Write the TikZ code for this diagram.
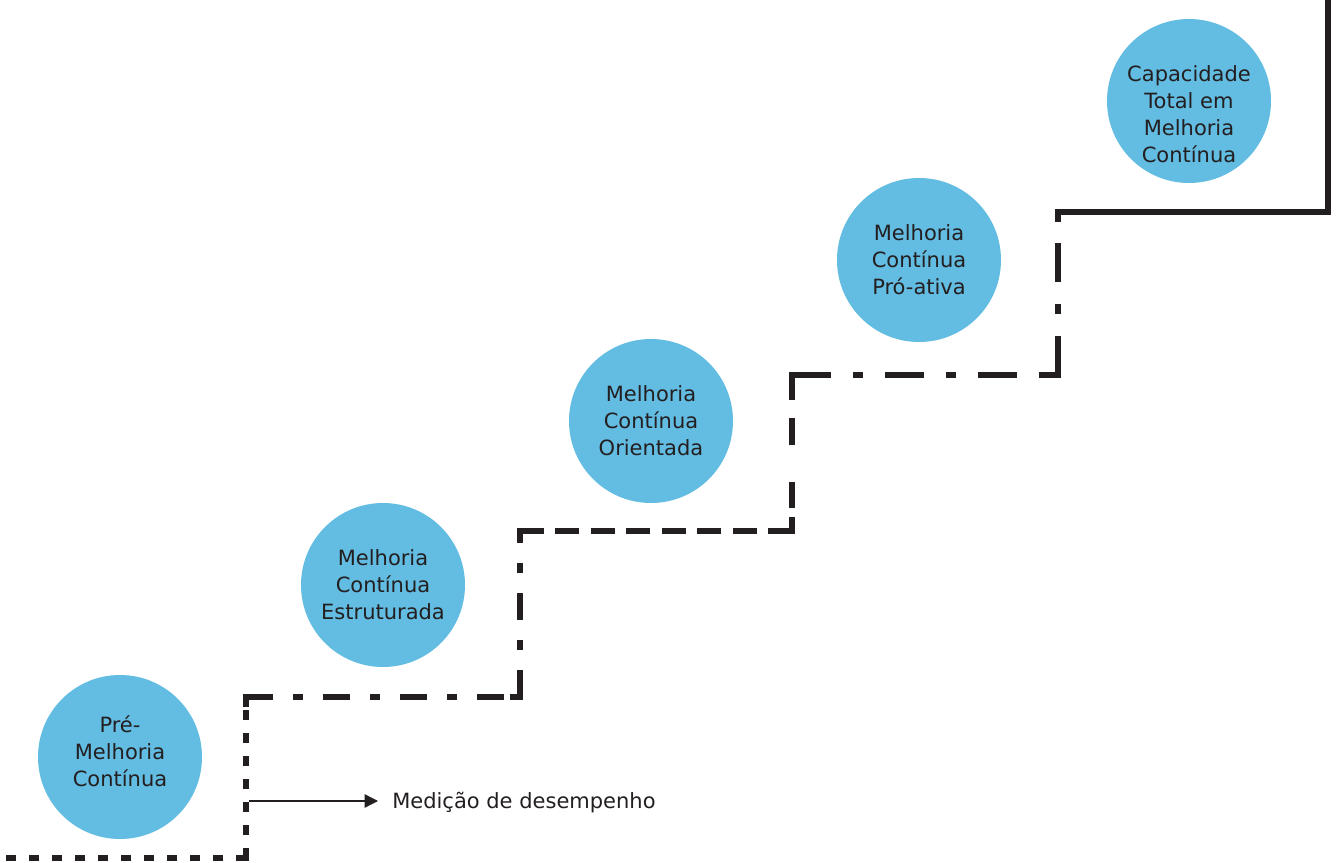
\documentclass[tikz,border=0pt]{standalone}
\usepackage{fontspec}
\setmainfont{DejaVu Sans}
\usetikzlibrary{arrows.meta}

\definecolor{stepblue}{HTML}{63BCE1}
\definecolor{stepink}{HTML}{231F20}

\tikzset{
	stagetext/.style={align=center, text=stepink, font=\fontsize{15.75}{20.25}\selectfont},
	stage/.style={stagetext, circle, fill=stepblue, minimum size=123pt, inner sep=0pt},
	stair/.style={line width=4pt, color=stepink},
	stairdots/.style={stair, dash pattern=on 7.5pt off 9.75pt},
	stairdashdot/.style={stair, dash pattern=on 20.25pt off 15pt on 7.5pt off 15pt},
	stairdash/.style={stair, dash pattern=on 18pt off 8.6pt},
	stairlong/.style={stair, dash pattern=on 29.25pt off 16.5pt on 7.5pt off 16.5pt},
}

\begin{document}
\begin{tikzpicture}[x=0.75pt, y=-0.75pt]
	%%%%% START %%%%%
	\useasboundingbox (0, 0) rectangle (1336, 863);

	% stages
	\node[stage, label={[stagetext, yshift=4pt]center:{Pré-\\Melhoria\\Contínua}}] (pre) at (120, 757) {};
	\node[stage] (estruturada) at (383, 585) {Melhoria\\Contínua\\Estruturada};
	\node[stage] (orientada) at (651, 421) {Melhoria\\Contínua\\Orientada};
	\node[stage] (proativa) at (919, 260) {Melhoria\\Contínua\\Pró-ativa};
	\node[stage, label={[stagetext, yshift=-10pt]center:{Capacidade\\Total em\\Melhoria\\Contínua}}] (total) at (1189, 101) {};

	% stairs
	\draw[stairdots] (246, 858) -- (0, 858);
	\draw[stairdots] (246, 858) -- (246, 697);
	\draw[stairdashdot] (246, 697) -- (520, 697);
	\draw[stairdashdot] (520, 697) -- (520, 531);
	\draw[stairdash] (792, 531) -- (520, 531);
	\draw[stair, dash pattern=on 10.5pt off 6.75pt on 19.5pt off 27.75pt on 20.25pt off 13.5pt on 22pt off 10pt] (792, 531) -- (792, 375);
	\draw[stairlong] (792, 375) -- (1058, 375);
	\draw[stairlong] (1058, 375) -- (1058, 212);
	\draw[stair] (1058, 212) -- (1328, 212) -- (1328, 0);

	% corners
	\foreach \x/\y in {246/697, 520/531, 792/375, 1058/212}
		\draw[stair] (\x, \y+10) -- (\x, \y) -- (\x+10, \y);
	\foreach \x/\y in {246/858, 520/697, 792/531, 1058/375}
		\draw[stair] (\x-10, \y) -- (\x, \y) -- (\x, \y-10);

	% measurement
	\coordinate (gauge) at (249, 801);
	\node[stagetext, anchor=west, inner sep=0pt] (medicao) at (392, 803) {Medição de desempenho};
	\draw[-{Triangle[length=10pt, width=10pt]}, line width=1pt, stepink, shorten >=10.5pt] (gauge) -- (gauge -| medicao.west);

	%%%%% END %%%%%
\end{tikzpicture}
\end{document}
